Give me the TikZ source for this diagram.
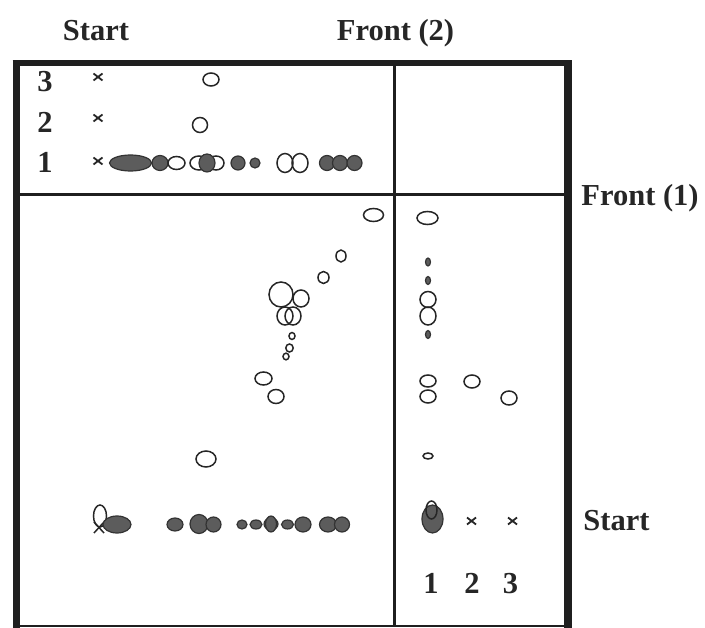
\documentclass[tikz,border=0pt]{standalone}
\usepackage{fontspec}
\setmainfont{Liberation Serif}
\begin{document}
\begin{tikzpicture}[x=1pt,y=-1pt,
  frameline/.style={draw=black!88, line cap=butt},
  lbl/.style={font=\fontsize{30.5}{36}\selectfont\bfseries, text=black!85, inner sep=0pt, anchor=base},
  hollow/.style={draw=black!85, line width=1.5, fill=white},
  solid/.style={draw=black!80, line width=1.2, fill=black!64},
  xmark/.pic={\draw[draw=black!85, line width=1.8] (-4.5,-3.5) -- (4.5,3.5) (-4.5,3.5) -- (4.5,-3.5);}
]
\useasboundingbox (0,0) rectangle (705,628);

% frame and dividers
\draw[frameline, line width=6] (12.5,63.5) -- (572,63.5);
\draw[frameline, line width=7] (16,60.5) -- (16,628);
\draw[frameline, line width=8] (568,60.5) -- (568,628);
\draw[frameline, line width=2.5] (16,626) -- (568,626);
\draw[frameline, line width=3] (394.5,64) -- (394.5,626);
\draw[frameline, line width=3] (16,195) -- (568,195);

% outside labels
\node[lbl] (startTop) at (96,41) {Start};
\node[lbl] (frontTwo) at (395.5,41) {Front (2)};
\node[lbl] (frontOne) at (640,206) {Front (1)};
\node[lbl] (startRight) at (616.5,530) {Start};

% row numbers, top panel
\node[lbl] (rThree) at (45,92) {3};
\node[lbl] (rTwo) at (45,133) {2};
\node[lbl] (rOne) at (45,173) {1};

% column numbers, right panel
\node[lbl] (cOne) at (431,593) {1};
\node[lbl] (cTwo) at (472,593) {2};
\node[lbl] (cThree) at (510.5,593) {3};

% start crosses
\pic at (98,77) {xmark};
\pic at (98,118) {xmark};
\pic at (98,161) {xmark};
\pic at (471.5,521) {xmark};
\pic at (512.5,521) {xmark};

% top panel, rows 3 and 2
\draw[hollow] (211,79.5) ellipse [x radius=8, y radius=6.5];
\draw[hollow] (200,125) ellipse [x radius=7.5, y radius=7.5];

% top panel, row 1
\draw[solid] (130.5,163) ellipse [x radius=21, y radius=8];
\draw[solid] (160,163) ellipse [x radius=8, y radius=7.5];
\draw[hollow] (176.5,163) ellipse [x radius=8.5, y radius=6.5];
\draw[hollow] (199,163) ellipse [x radius=9, y radius=7];
\draw[hollow] (216,163) ellipse [x radius=8, y radius=7];
\draw[solid] (207,163) ellipse [x radius=8, y radius=9];
\draw[solid] (238,163) ellipse [x radius=7, y radius=7];
\draw[solid] (255,163) ellipse [x radius=5, y radius=5];
\draw[hollow] (285,163) ellipse [x radius=8, y radius=9.5];
\draw[hollow, fill=none] (300,163) ellipse [x radius=8, y radius=9.5];
\draw[solid] (327,163) ellipse [x radius=7.5, y radius=7.5];
\draw[solid] (340,163) ellipse [x radius=7.5, y radius=7.5];
\draw[solid] (354.5,163) ellipse [x radius=7.5, y radius=7.5];

% main panel, diagonal track
\draw[hollow] (373.5,215) ellipse [x radius=10, y radius=6.5];
\draw[hollow] (341,256) ellipse [x radius=5, y radius=6];
\draw[hollow] (323.5,277.5) ellipse [x radius=5.5, y radius=6];
\draw[hollow, fill=none] (301,298.5) ellipse [x radius=8, y radius=8.5];
\draw[hollow, fill=none] (281,294.5) ellipse [x radius=12, y radius=12.5];
\draw[hollow, fill=none] (285,316) ellipse [x radius=8, y radius=9];
\draw[hollow, fill=none] (293,316) ellipse [x radius=8, y radius=9];
\draw[hollow] (292,336) ellipse [x radius=3, y radius=3.5];
\draw[hollow] (289.5,348) ellipse [x radius=3.7, y radius=4];
\draw[hollow] (286,356.5) ellipse [x radius=3, y radius=3.3];
\draw[hollow] (263.5,378.5) ellipse [x radius=8.5, y radius=6.5];
\draw[hollow] (276,396.5) ellipse [x radius=8, y radius=7];
\draw[hollow] (206,459) ellipse [x radius=10, y radius=8];

% main panel, bottom row
\draw[hollow, fill=none] (100,516) ellipse [x radius=6.5, y radius=11];
\draw[draw=black!85, line width=1.5] (94,533) -- (104,522) (94,522) -- (104,533);
\draw[solid] (117,524.5) ellipse [x radius=14, y radius=8.5];
\draw[solid] (175,524.5) ellipse [x radius=8, y radius=6.5];
\draw[solid] (199,524) ellipse [x radius=9, y radius=9.5];
\draw[solid] (213.5,524.5) ellipse [x radius=7.5, y radius=7.5];
\draw[solid] (242,524.5) ellipse [x radius=5, y radius=4.5];
\draw[solid] (256,524.5) ellipse [x radius=6, y radius=4.5];
\draw[solid] (271,524) ellipse [x radius=7, y radius=6];
\draw[solid] (271,524) ellipse [x radius=5.5, y radius=8];
\draw[solid] (287.5,524.5) ellipse [x radius=6, y radius=4.5];
\draw[solid] (303,524.5) ellipse [x radius=8, y radius=7.5];
\draw[solid] (328,524.5) ellipse [x radius=8.5, y radius=7.5];
\draw[solid] (342,524.5) ellipse [x radius=7.5, y radius=7.5];

% right panel, column 1
\draw[hollow] (427.5,218) ellipse [x radius=10.5, y radius=6.5];
\draw[solid] (428,262) ellipse [x radius=2.5, y radius=4];
\draw[solid] (428,280.5) ellipse [x radius=2.5, y radius=4];
\draw[hollow] (428,299.5) ellipse [x radius=8, y radius=8];
\draw[hollow, fill=none] (428,316) ellipse [x radius=8, y radius=9];
\draw[solid] (428,334.5) ellipse [x radius=2.5, y radius=4];
\draw[hollow] (428,381) ellipse [x radius=8, y radius=6];
\draw[hollow] (428,396.5) ellipse [x radius=8, y radius=6.5];
\draw[hollow] (428,456) ellipse [x radius=5, y radius=3];
\draw[solid] (432.5,519) ellipse [x radius=10.5, y radius=14];
\draw[hollow, fill=none] (431.5,510) ellipse [x radius=5.5, y radius=9];

% right panel, columns 2 and 3
\draw[hollow] (472,381.5) ellipse [x radius=8, y radius=6.5];
\draw[hollow] (509,398) ellipse [x radius=8, y radius=7];
\end{tikzpicture}
\end{document}
